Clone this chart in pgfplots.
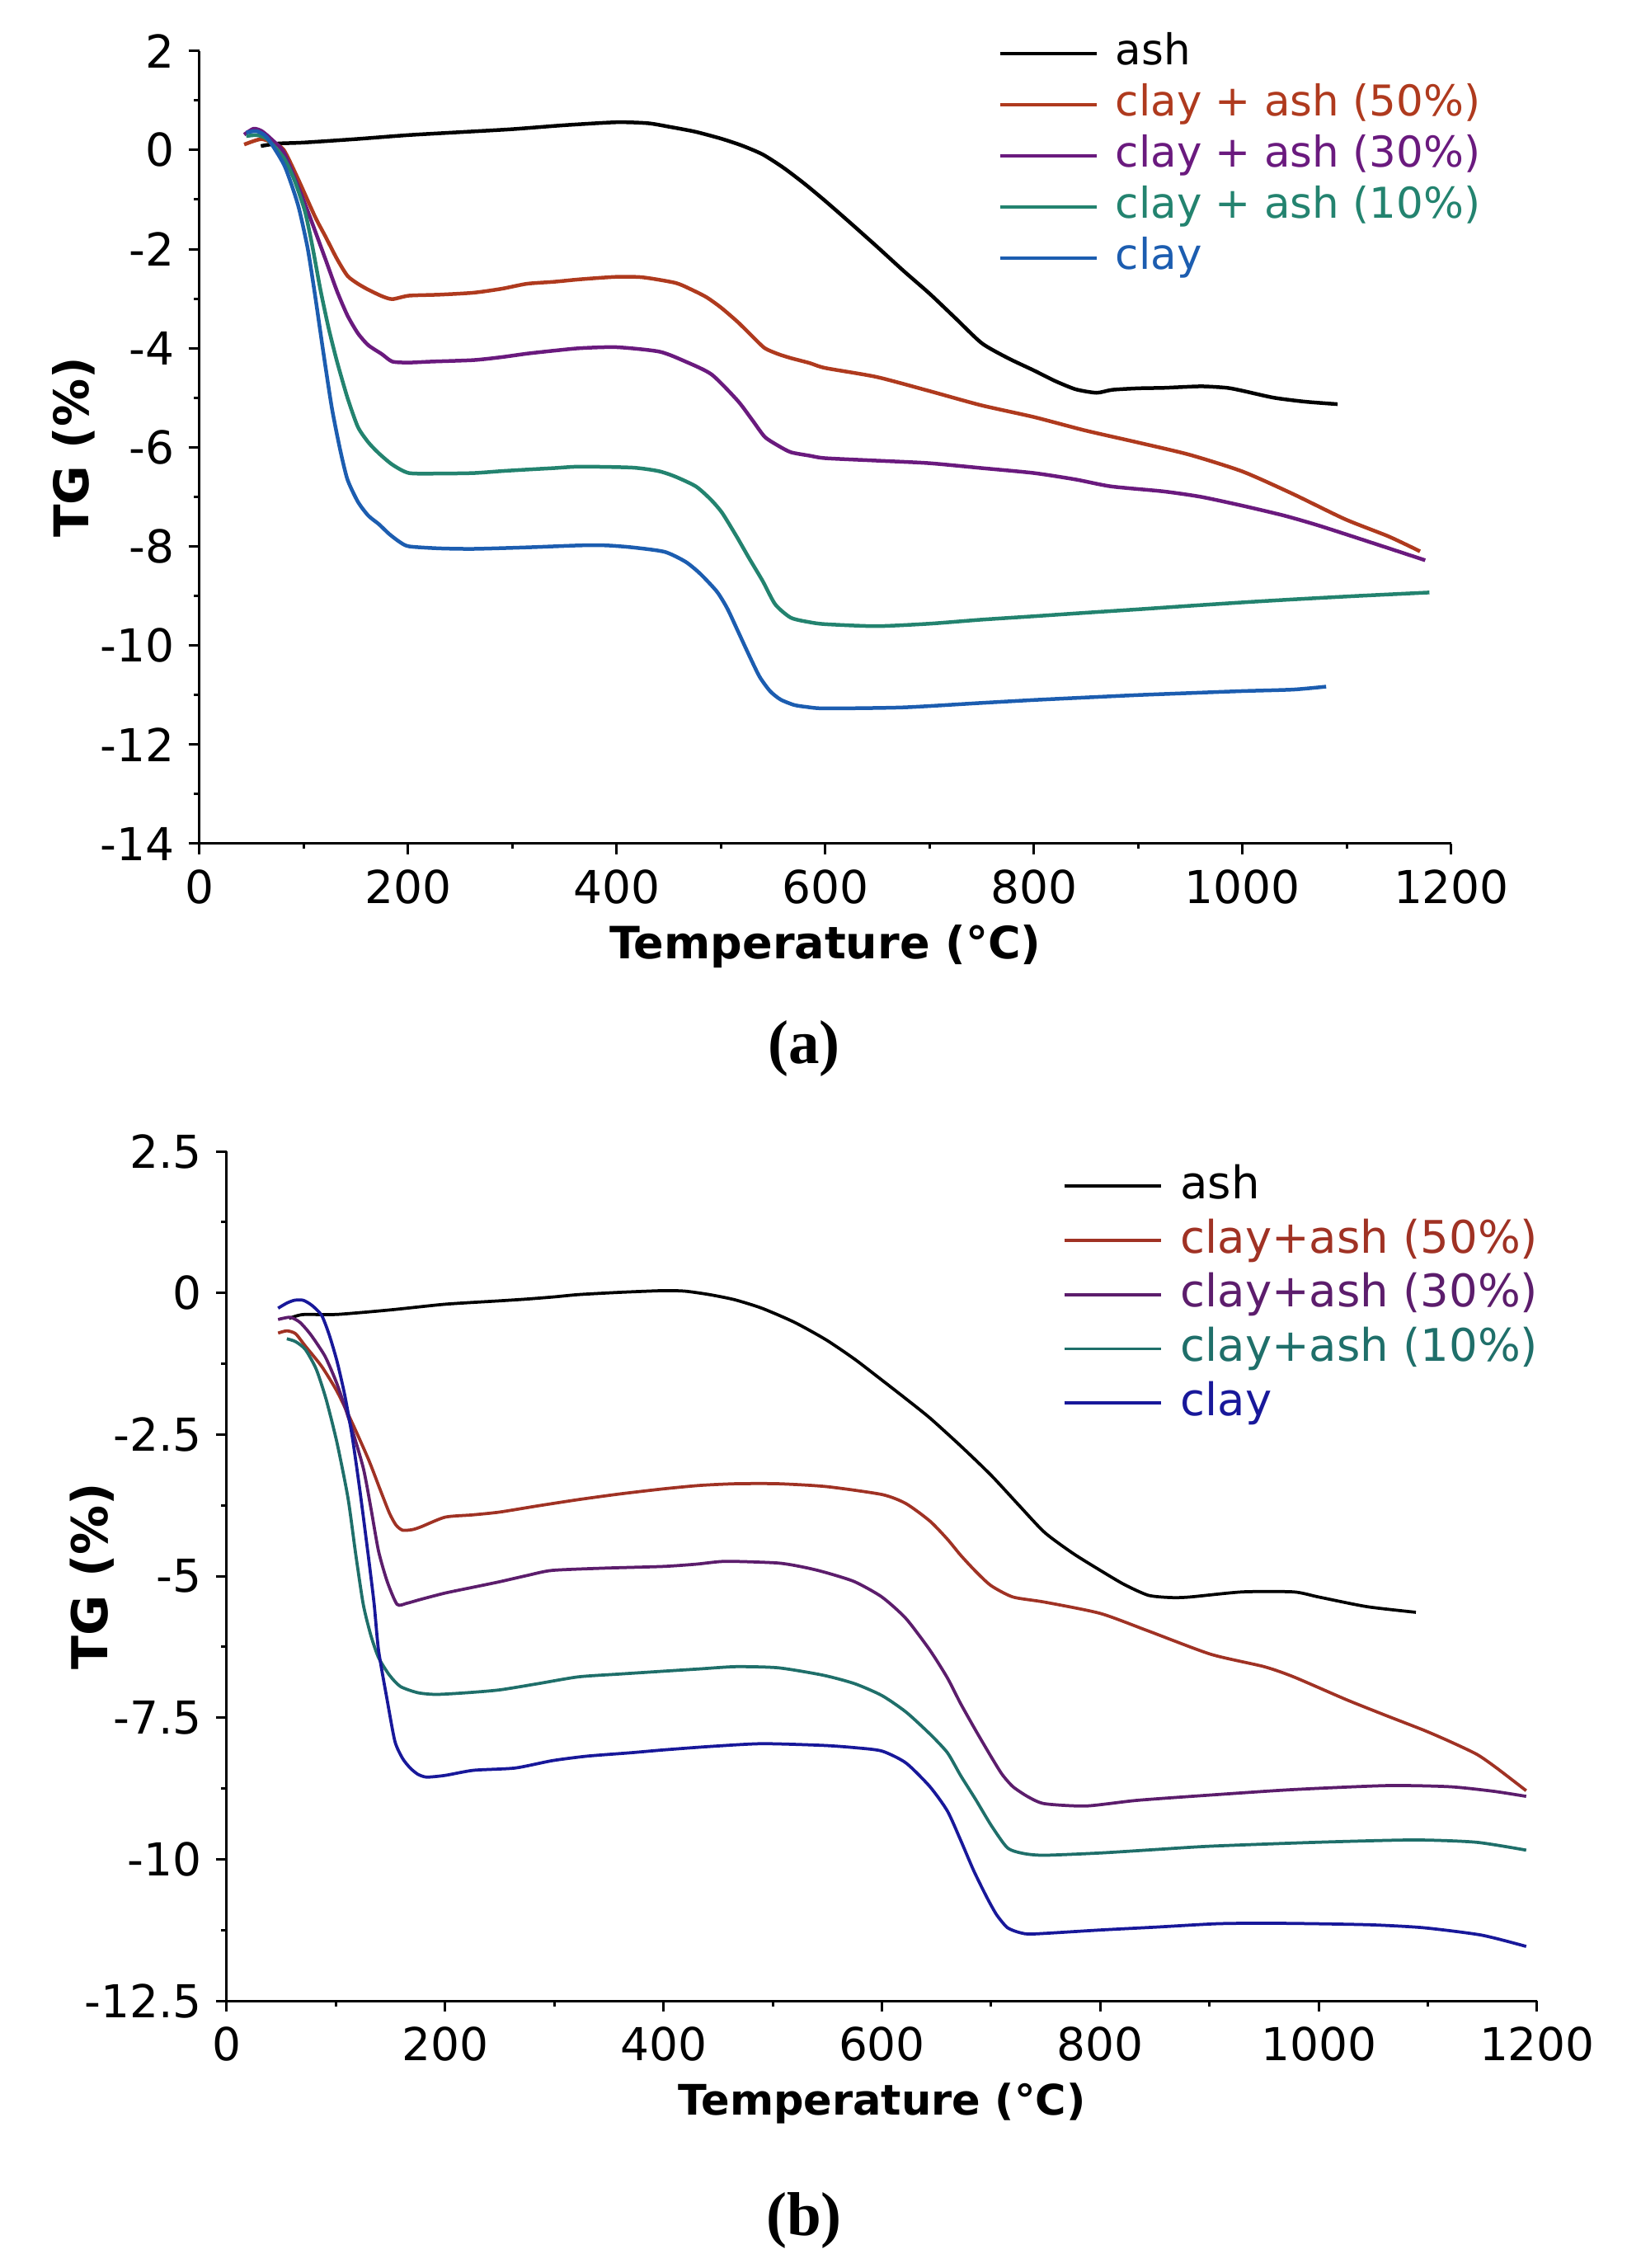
\documentclass[border=0pt]{standalone}
\usepackage{pgfplots}
\pgfplotsset{compat=1.18}
\usepackage{fontspec}
\setmainfont{DejaVu Sans}
\newfontfamily\tickfont{DejaVu Sans}
\newfontfamily\capfont{Liberation Serif}
\definecolor{redA}{HTML}{AF3A1E}
\definecolor{purpA}{HTML}{6A1A7E}
\definecolor{tealA}{HTML}{23836F}
\definecolor{blueA}{HTML}{1C5DB0}
\definecolor{redB}{HTML}{A03224}
\definecolor{purpB}{HTML}{5C1D6C}
\definecolor{tealB}{HTML}{1F6F6A}
\definecolor{blueB}{HTML}{18189A}
\pgfplotsset{
 tgstyle/.style={
  scale only axis,
  axis lines*=left,
  axis line style={line width=0.6pt, black},
  every tick/.style={line width=0.6pt, black},
  tick align=outside,
  major tick length=2.6pt,
  minor tick length=1.3pt,
  xmin=0,xmax=1200,
  xtick={0,200,...,1200},
  xticklabels={0,200,400,600,800,1000,1200},
  minor x tick num=1,
  minor y tick num=1,
  tick label style={font=\tickfont\fontsize{11}{13}\selectfont, inner sep=0pt},
  xticklabel style={yshift=-3.6pt},
  yticklabel style={xshift=-3.3pt},
  label style={font=\bfseries\fontsize{11}{13}\selectfont},
  legend image code/.code={\draw[##1] (0pt,0pt) -- (23.4pt,0pt);},
  legend cell align=left,
  every axis plot/.append style={smooth, tension=0.4},
 }
}
\begin{document}
\begin{tikzpicture}
\path[use as bounding box] (0,0) rectangle (398pt,550pt);
% ---------------- panel (a)
\begin{axis}[tgstyle,
  at={(48.34pt,345.4pt)}, anchor=south west,
  width=303.66pt, height=192.26pt,
  ymin=-14, ymax=2,
  ytick={-14,-12,...,2},
  yticklabels={-14,-12,-10,-8,-6,-4,-2,0,2},
  every axis plot/.append style={line width=0.9pt},
  xlabel={Temperature (°C)},
  ylabel={TG (\%)},
  xlabel style={at={(axis description cs:0.5,-0.130)}, anchor=center, font=\bfseries\fontsize{10.8}{13}\selectfont},
  ylabel style={at={(axis description cs:-0.1006,0.5)}, anchor=center, font=\bfseries\fontsize{11.6}{13}\selectfont},
  legend style={at={(axis description cs:0.638,1.029)}, anchor=north west, draw=none, fill=none,
    inner sep=0pt, outer sep=0pt, column sep=4.2pt, row sep=0pt,
    font=\fontsize{10.3}{12}\selectfont,
    nodes={inner sep=0pt, text height=9pt, text depth=3.4pt}},
]
\addplot[black] coordinates {(59,0.08) (75,0.13) (100,0.15) (150,0.22) (200,0.30) (250,0.36) (300,0.42) (350,0.50) (400,0.56) (430,0.54) (450,0.47) (475,0.37) (500,0.23) (520,0.09) (540,-0.09) (560,-0.36) (580,-0.68) (600,-1.03) (625,-1.49) (650,-1.96) (675,-2.44) (700,-2.90) (725,-3.40) (750,-3.90) (775,-4.20) (800,-4.45) (820,-4.66) (840,-4.83) (860,-4.90) (875,-4.84) (900,-4.81) (925,-4.80) (960,-4.77) (985,-4.80) (1000,-4.86) (1030,-5.0) (1060,-5.08) (1091,-5.13)};
\addlegendentry{ash}
\addplot[redA] coordinates {(43,0.11) (52,0.18) (60,0.22) (70,0.15) (81,0.0) (95,-0.6) (111,-1.35) (121,-1.75) (132,-2.2) (142,-2.54) (152,-2.7) (162,-2.82) (175,-2.95) (185,-3.01) (201,-2.94) (230,-2.92) (263,-2.88) (290,-2.80) (314,-2.70) (340,-2.66) (365,-2.61) (400,-2.56) (425,-2.57) (456,-2.68) (470,-2.80) (486,-2.97) (500,-3.18) (516,-3.47) (530,-3.76) (542,-4.0) (555,-4.12) (567,-4.20) (585,-4.30) (600,-4.40) (649,-4.58) (699,-4.86) (749,-5.15) (800,-5.39) (849,-5.66) (899,-5.90) (949,-6.15) (1000,-6.49) (1048,-6.94) (1098,-7.45) (1140,-7.80) (1170,-8.10)};
\addlegendentry{\textcolor{redA}{clay + ash (50\%)}}
\addplot[purpA] coordinates {(43,0.31) (52,0.43) (60,0.38) (70,0.2) (81,-0.05) (95,-0.75) (106,-1.35) (121,-2.21) (132,-2.85) (142,-3.34) (152,-3.7) (162,-3.94) (175,-4.12) (185,-4.27) (201,-4.29) (223,-4.27) (263,-4.24) (290,-4.18) (314,-4.11) (340,-4.05) (365,-4.0) (400,-3.98) (441,-4.07) (466,-4.27) (491,-4.53) (516,-5.06) (530,-5.45) (542,-5.79) (555,-5.97) (567,-6.1) (585,-6.17) (600,-6.22) (650,-6.27) (699,-6.32) (750,-6.42) (800,-6.52) (840,-6.65) (874,-6.79) (924,-6.89) (960,-7.0) (1000,-7.18) (1040,-7.38) (1073,-7.58) (1120,-7.9) (1175,-8.28)};
\addlegendentry{\textcolor{purpA}{clay + ash (30\%)}}
\addplot[tealA] coordinates {(45,0.28) (55,0.3) (65,0.22) (81,-0.16) (91,-0.6) (101,-1.22) (108,-1.9) (116,-2.81) (124,-3.6) (132,-4.27) (142,-5.0) (152,-5.59) (162,-5.9) (172,-6.12) (185,-6.35) (201,-6.52) (230,-6.53) (263,-6.52) (290,-6.48) (314,-6.45) (340,-6.42) (365,-6.39) (415,-6.41) (440,-6.48) (456,-6.59) (476,-6.79) (490,-7.05) (501,-7.32) (515,-7.8) (527,-8.24) (540,-8.7) (552,-9.17) (567,-9.44) (585,-9.53) (600,-9.57) (649,-9.61) (700,-9.56) (749,-9.48) (800,-9.41) (849,-9.34) (900,-9.27) (949,-9.2) (1000,-9.13) (1048,-9.07) (1110,-9.0) (1179,-8.93)};
\addlegendentry{\textcolor{tealA}{clay + ash (10\%)}}
\addplot[blueA] coordinates {(45,0.35) (55,0.38) (65,0.25) (81,-0.29) (90,-0.8) (96,-1.22) (104,-2.0) (111,-2.94) (119,-4.1) (127,-5.2) (135,-6.05) (142,-6.65) (152,-7.1) (162,-7.38) (172,-7.55) (182,-7.75) (192,-7.91) (201,-8.0) (230,-8.04) (263,-8.05) (314,-8.02) (365,-7.98) (390,-7.98) (415,-8.02) (446,-8.11) (466,-8.31) (480,-8.55) (496,-8.91) (506,-9.25) (516,-9.7) (527,-10.2) (537,-10.63) (547,-10.92) (557,-11.09) (570,-11.2) (582,-11.24) (600,-11.27) (674,-11.25) (749,-11.16) (800,-11.1) (849,-11.05) (900,-11.0) (949,-10.96) (1000,-10.92) (1048,-10.89) (1080,-10.83)};
\addlegendentry{\textcolor{blueA}{clay}}
\end{axis}
% ---------------- panel (b)
\begin{axis}[tgstyle,
  at={(55pt,64.8pt)}, anchor=south west,
  width=317.8pt, height=206pt,
  ymin=-12.5, ymax=2.5,
  ytick={-12.5,-10,-7.5,-5,-2.5,0,2.5},
  yticklabels={-12.5,-10,-7.5,-5,-2.5,0,2.5},
  every axis plot/.append style={line width=0.75pt},
  xlabel={Temperature (°C)},
  ylabel={TG (\%)},
  xlabel style={at={(axis description cs:0.5,-0.121)}, anchor=center, font=\bfseries\fontsize{10.2}{13}\selectfont},
  ylabel style={at={(axis description cs:-0.103,0.5)}, anchor=center, font=\bfseries\fontsize{12}{14}\selectfont},
  legend style={at={(axis description cs:0.638,0.991)}, anchor=north west, draw=none, fill=none,
    inner sep=0pt, outer sep=0pt, column sep=4.4pt, row sep=0pt,
    font=\fontsize{10.9}{13}\selectfont,
    nodes={inner sep=0pt, text height=9.6pt, text depth=3.55pt}},
]
\addplot[black] coordinates {(57,-0.45) (65,-0.4) (72,-0.38) (101,-0.38) (150,-0.3) (200,-0.2) (250,-0.14) (274,-0.11) (300,-0.07) (322,-0.03) (360,0.01) (400,0.04) (420,0.03) (442,-0.03) (465,-0.12) (490,-0.27) (520,-0.52) (549,-0.83) (575,-1.17) (600,-1.54) (622,-1.87) (644,-2.21) (672,-2.7) (700,-3.22) (725,-3.74) (749,-4.23) (775,-4.6) (800,-4.9) (822,-5.15) (844,-5.34) (865,-5.38) (882,-5.37) (930,-5.28) (977,-5.28) (1000,-5.37) (1044,-5.54) (1089,-5.64)};
\addlegendentry{ash}
\addplot[redB] coordinates {(47,-0.71) (55,-0.67) (63,-0.72) (72,-0.94) (87,-1.3) (101,-1.74) (115,-2.3) (130,-2.95) (140,-3.45) (149,-3.89) (155,-4.1) (161,-4.19) (170,-4.18) (178,-4.13) (200,-3.96) (225,-3.92) (250,-3.87) (285,-3.76) (322,-3.65) (360,-3.55) (400,-3.46) (433,-3.40) (466,-3.37) (505,-3.37) (549,-3.42) (600,-3.56) (622,-3.72) (644,-4.03) (660,-4.35) (672,-4.63) (686,-4.92) (700,-5.17) (720,-5.37) (749,-5.46) (800,-5.66) (844,-5.97) (901,-6.38) (950,-6.6) (977,-6.78) (1025,-7.18) (1060,-7.45) (1096,-7.72) (1120,-7.92) (1145,-8.15) (1163,-8.39) (1190,-8.79)};
\addlegendentry{\textcolor{redB}{clay+ash (50\%)}}
\addplot[purpB] coordinates {(47,-0.47) (58,-0.43) (67,-0.52) (77,-0.74) (90,-1.12) (101,-1.61) (113,-2.3) (125,-3.09) (132,-3.8) (139,-4.56) (147,-5.1) (156,-5.50) (165,-5.48) (178,-5.41) (200,-5.30) (225,-5.2) (250,-5.10) (275,-4.99) (298,-4.90) (346,-4.86) (400,-4.83) (430,-4.79) (457,-4.74) (505,-4.77) (530,-4.85) (549,-4.94) (575,-5.1) (600,-5.37) (622,-5.75) (644,-6.31) (660,-6.8) (672,-7.25) (686,-7.73) (700,-8.19) (710,-8.5) (720,-8.72) (734,-8.9) (749,-9.02) (787,-9.06) (834,-8.96) (906,-8.86) (977,-8.77) (1063,-8.7) (1120,-8.72) (1160,-8.8) (1190,-8.89)};
\addlegendentry{\textcolor{purpB}{clay+ash (30\%)}}
\addplot[tealB] coordinates {(55,-0.81) (63,-0.86) (72,-1.0) (82,-1.35) (91,-1.88) (101,-2.65) (111,-3.62) (118,-4.6) (125,-5.5) (132,-6.05) (139,-6.44) (149,-6.75) (159,-6.95) (175,-7.06) (192,-7.09) (220,-7.06) (250,-7.01) (285,-6.9) (322,-6.78) (360,-6.73) (400,-6.68) (433,-6.64) (466,-6.60) (505,-6.62) (546,-6.75) (575,-6.9) (600,-7.11) (622,-7.4) (644,-7.79) (660,-8.12) (672,-8.52) (686,-8.95) (700,-9.4) (715,-9.8) (730,-9.9) (749,-9.93) (800,-9.89) (850,-9.83) (901,-9.77) (1000,-9.7) (1087,-9.66) (1144,-9.7) (1190,-9.84)};
\addlegendentry{\textcolor{tealB}{clay+ash (10\%)}}
\addplot[blueB] coordinates {(47,-0.27) (55,-0.18) (62,-0.13) (70,-0.13) (78,-0.22) (87,-0.4) (94,-0.75) (101,-1.21) (108,-1.8) (115,-2.55) (122,-3.5) (130,-4.7) (135,-5.5) (139,-6.31) (147,-7.2) (154,-7.92) (161,-8.22) (168,-8.39) (175,-8.5) (183,-8.55) (200,-8.52) (226,-8.43) (264,-8.39) (298,-8.26) (330,-8.18) (370,-8.12) (400,-8.07) (442,-8.01) (490,-7.96) (546,-7.99) (575,-8.03) (600,-8.09) (622,-8.3) (644,-8.72) (660,-9.15) (672,-9.66) (684,-10.2) (696,-10.67) (705,-10.98) (715,-11.21) (727,-11.3) (739,-11.32) (800,-11.25) (850,-11.2) (906,-11.14) (950,-11.13) (1000,-11.14) (1050,-11.16) (1096,-11.21) (1149,-11.34) (1190,-11.54)};
\addlegendentry{\textcolor{blueB}{clay}}
\end{axis}
\node[font=\capfont\bfseries\fontsize{15}{17}\selectfont, anchor=base, inner sep=0pt] at (195pt,292pt) {(a)};
\node[font=\capfont\bfseries\fontsize{15}{17}\selectfont, anchor=base, inner sep=0pt] at (195pt,8pt) {(b)};
\end{tikzpicture}
\end{document}
